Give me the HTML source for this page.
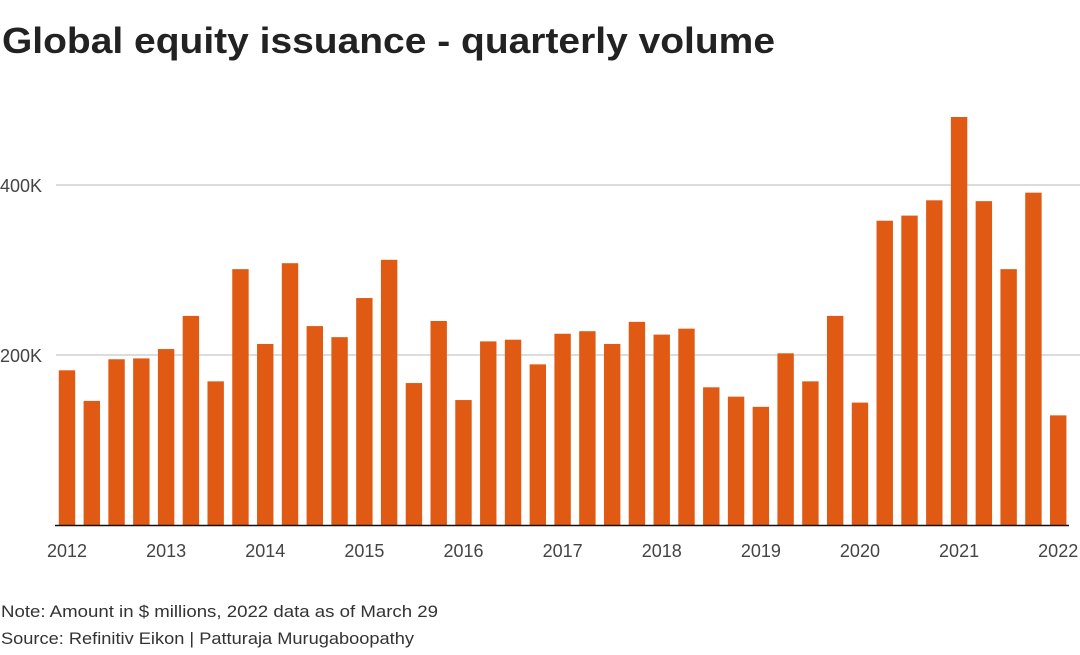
<!DOCTYPE html>
<html><head><meta charset="utf-8"><style>
body{margin:0;background:#fff;}
svg{display:block;font-family:"Liberation Sans",sans-serif;}
</style></head><body>
<svg id="chart" width="1080" height="655" viewBox="0 0 1080 655">
<text x="2" y="53" font-size="36" font-weight="bold" fill="#222" textLength="773" lengthAdjust="spacingAndGlyphs">Global equity issuance - quarterly volume</text>
<g id="grid"></g><g id="bars"></g><g id="xaxis"></g>
<text x="1" y="617" font-size="17" fill="#333" textLength="437" lengthAdjust="spacingAndGlyphs">Note: Amount in $ millions, 2022 data as of March 29</text>
<text x="1" y="644" font-size="17" fill="#333" textLength="413" lengthAdjust="spacingAndGlyphs">Source: Refinitiv Eikon | Patturaja Murugaboopathy</text>
</svg>
<script>
const values=[182,146,195,196,207,246,169,301,213,308,234,221,267,312,167,240,147,216,218,189,225,228,213,239,224,231,162,151,139,202,169,246,144,358,364,382,480,381,301,391,129];
const yTicks=[200,400];
const yTickLabels=["200K","400K"];
const years=["2012","2013","2014","2015","2016","2017","2018","2019","2020","2021","2022"];
const NS="http://www.w3.org/2000/svg";
const base=525, kScale=0.85;
function y(v){return base-v*kScale;}
function xc(i){return 67+i*24.78;}
const grid=document.getElementById('grid'),bars=document.getElementById('bars'),xa=document.getElementById('xaxis');
yTicks.forEach((t,k)=>{
 const l=document.createElementNS(NS,'line');
 
 
 l.setAttribute('x1',56);l.setAttribute('x2',1080);l.setAttribute('y1',y(t));l.setAttribute('y2',y(t));
 l.setAttribute('stroke','#c8c8c8');l.setAttribute('stroke-width','1.2');grid.appendChild(l);
 const tx=document.createElementNS(NS,'text');
 
 
 tx.setAttribute('x',0);tx.setAttribute('y',y(t)+7);tx.setAttribute('font-size','18');tx.setAttribute('fill','#444');
 tx.textContent=yTickLabels[k];grid.appendChild(tx);
});
values.forEach((v,i)=>{
 const r=document.createElementNS(NS,'rect');
 
 
 r.setAttribute('x',xc(i)-8.2);r.setAttribute('width',16.4);r.setAttribute('y',y(v));r.setAttribute('height',v*kScale);
 r.setAttribute('fill','#e05a14');bars.appendChild(r);
});
const ax=document.createElementNS(NS,'line');


ax.setAttribute('x1',55);ax.setAttribute('x2',1069);ax.setAttribute('y1',base+0.5);ax.setAttribute('y2',base+0.5);
ax.setAttribute('stroke','#111');ax.setAttribute('stroke-width','1.6');xa.appendChild(ax);
years.forEach((yr,k)=>{
 const t=document.createElementNS(NS,'text');
 
 
 t.setAttribute('x',xc(k*4));t.setAttribute('y',557);t.setAttribute('text-anchor','middle');
 t.setAttribute('font-size','18');t.setAttribute('fill','#444');t.textContent=yr;xa.appendChild(t);
});
</script>
</body></html>
